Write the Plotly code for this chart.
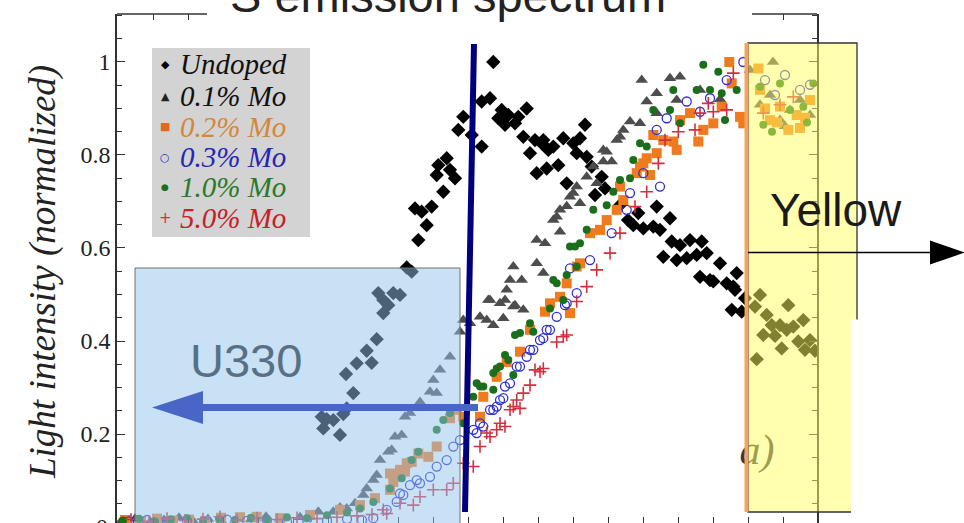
import plotly.graph_objects as go

# ---------------- data (x: arbitrary units 0..700, y: normalized intensity) ----------------
undoped = [(204.7,0.237),(206.3,0.212),(209.7,0.232),(216.3,0.230),(223,0.198),(226.3,0.243),(229.7,0.255),
           (229,0.329),(236.3,0.288),(239.7,0.352),(249.7,0.379),(254.7,0.353),(259.7,0.404),(261.3,0.503),
           (266.3,0.488),(266.3,0.460),(271.3,0.477),(276.3,0.503),(283,0.499),(289.7,0.558),(294.7,0.549),
           (298,0.685),(301.3,0.617),(304.7,0.678),(309.7,0.649),(314.7,0.689),(319.7,0.757),(321.3,0.778),
           (326.3,0.721),(329.7,0.793),(333,0.768),(338,0.750),(341.3,0.854),(346.3,0.882),(354.7,0.843),
           (364.7,0.915),(364.7,0.818),(373,0.922),(376.3,1.0),(381.3,0.879),(384.7,0.897),(388,0.865),
           (391.3,0.886),(398,0.868),(401.3,0.882),(406.3,0.839),(409.7,0.900),(413,0.804),(418,0.832),
           (419.7,0.761),(424.7,0.825),(426.3,0.832),(429.7,0.771),(431.3,0.811),(436.3,0.818),(441.3,0.778),
           (446.3,0.836),(449.7,0.739),(456.3,0.825),(459.7,0.804),(463,0.836),(468,0.865),(469.7,0.796),
           (474.7,0.775),(478,0.714),(484.7,0.753),(488,0.728),(503,0.692),(511,0.660),(516.3,0.649),
           (521.3,0.675),(526.3,0.642),(536.3,0.646),(539.7,0.689),(543,0.639),(546.3,0.581),(553,0.664),
           (554.7,0.614),(559.7,0.574),(563,0.606),(569.7,0.578),(573,0.617),(579.7,0.585),(583,0.538),
           (584.7,0.614),(589.7,0.589),(593,0.531),(596.3,0.528),(603,0.567),(609.7,0.524),(616.3,0.517),
           (619.7,0.546),(618,0.510),(614.7,0.467),(624.7,0.463),(628,0.492),(638,0.474),(639.7,0.361),
           (643,0.499),(646.3,0.413),(649.7,0.456),(654.7,0.434),(658,0.411),(663,0.434),(664.7,0.384),
           (669.7,0.424),(671.3,0.477),(676.3,0.431),(681.3,0.399),(686.3,0.445),(688,0.381),(693,0.402),
           (698,0.379)]

mo_01 = [(4,0.012),(18,0.018),(33,0.010),(47,0.015),(62,0.020),(76,0.013),(91,0.017),(105,0.011),
         (120,0.019),(134,0.016),(149,0.022),(163,0.018),(183,0.021),(201.3,0.033),(216.3,0.033),(223,0.042),
         (229.7,0.040),(238,0.051),(246.3,0.069),(249.7,0.083),(256.3,0.101),(259.7,0.112),(263,0.144),
         (271.3,0.162),(274.7,0.166),(278,0.194),(284.7,0.198),(288,0.237),(293,0.245),(303,0.269),
         (313,0.291),(319.7,0.288),(316.3,0.316),(323,0.338),(333,0.366),(343,0.420),(346.3,0.445),
         (353,0.438),(363,0.452),(369.7,0.445),(371.3,0.488),(376.3,0.434),(373,0.488),(383,0.481),
         (386.3,0.449),(388,0.488),(389.7,0.510),(393,0.531),(396.3,0.474),(396.3,0.560),(398,0.477),
         (404.7,0.531),(406.3,0.467),(419.7,0.567),(419.7,0.617),(426.3,0.546),(428,0.610),(436.3,0.660),
         (439.7,0.667),(443,0.635),(443,0.682),(449.7,0.690),(453,0.710),(456.3,0.718),(459.7,0.732),
         (463,0.696),(469.7,0.753),(476.3,0.775),(479.7,0.739),(486.3,0.811),(486.3,0.786),(489.7,0.807),
         (494.7,0.786),(499.7,0.832),(503,0.839),(506.3,0.854),(513,0.872),(523,0.868),(524.7,0.961),
         (529.7,0.915),(539.7,0.933),(539.7,0.890),(553,0.965),(559.7,0.918),(563,0.968),(583,0.940),
         (603,0.920),(633,0.983),(656,1.0),(643,0.908),(663,0.875),(673,0.897),(683,0.918),(693,0.886),
         (653,0.929),(668,0.862)]

mo_02 = [(8,0.015),(24,0.012),(40,0.018),(56,0.014),(72,0.016),(88,0.013),(104,0.020),(123,0.021),
         (139.7,0.022),(163,0.019),(193,0.026),(223,0.037),(243,0.047),(258,0.062),(273,0.080),(273,0.115),
         (276.3,0.097),(281.3,0.108),(283,0.123),(288,0.119),(289.7,0.137),(294.7,0.140),(301.3,0.158),
         (311.3,0.151),(319.7,0.173),(333,0.234),(339.7,0.252),(346.3,0.237),(363,0.237),(366.3,0.280),
         (379.7,0.323),(389.7,0.355),(403,0.377),(413,0.424),(428,0.463),(433,0.481),(443,0.495),
         (449.7,0.524),(453,0.460),(459.7,0.560),(463,0.567),(473,0.632),(483,0.639),(489.7,0.660),
         (499.7,0.682),(503,0.732),(506.3,0.703),(519.7,0.761),(523,0.775),(526.3,0.782),(529.7,0.793),
         (533,0.757),(536.3,0.843),(539.7,0.804),(546.3,0.832),(556.3,0.829),(559.7,0.811),(563,0.875),
         (573,0.890),(581.3,0.829),(586.3,0.854),(596.3,0.868),(604.7,0.904),(612.3,1.0),(614.7,0.954),
         (623,0.882),(626.3,0.868),(641.3,0.986),(643,0.940),(663,0.904),(671.3,0.854),(679.7,0.886),
         (693,0.918),(653,0.875),(683,0.858),(660,0.870),(688,0.880),(648,0.900)]

mo_03 = [(12,0.012),(30,0.015),(50,0.011),(70,0.014),(90,0.012),(110,0.016),(130,0.013),(150,0.015),
         (170,0.012),(190,0.016),(210,0.014),(230,0.017),(245,0.015),(256.3,0.019),(269.7,0.037),
         (279.7,0.054),(283,0.072),(286.3,0.069),(293,0.090),(299.7,0.101),(303,0.094),(313,0.108),
         (319.7,0.130),(329.7,0.144),(336.3,0.173),(343,0.187),(356.3,0.209),(359.7,0.202),(363,0.223),
         (366.3,0.216),(373,0.252),(376.3,0.252),(379.7,0.259),(383,0.273),(386.3,0.277),(388,0.302),
         (393,0.309),(399.7,0.345),(403,0.345),(409.7,0.366),(413,0.381),(416.3,0.381),(423,0.402),
         (426.3,0.406),(429.7,0.424),(433,0.424),(439.7,0.452),(448,0.477),(449.7,0.481),(453,0.556),
         (459.7,0.503),(473,0.574),(494.7,0.632),(509.7,0.682),(513,0.718),(526.3,0.761),(539.7,0.854),
         (543,0.732),(549.7,0.879),(569.7,0.915),(583,0.893),(593,0.922),(609.7,0.961),(626.3,1.0),
         (648,0.961),(668,0.972),(683,0.940),(693,0.951),(658,0.929)]

mo_10 = [(6,0.014),(22,0.018),(38,0.012),(54,0.016),(70,0.019),(86,0.013),(102,0.017),(118,0.015),
         (134,0.020),(150,0.016),(170,0.021),(190,0.019),(210,0.025),(230,0.031),(243,0.040),(256.3,0.054),
         (273,0.083),(284.7,0.105),(294.7,0.144),(301.3,0.162),(319.7,0.209),(326.3,0.230),(333,0.245),
         (346.3,0.223),(356.3,0.280),(359.7,0.309),(363,0.302),(366.3,0.302),(376.3,0.295),(376.3,0.331),
         (379.7,0.341),(383,0.345),(388,0.370),(391.3,0.359),(396.3,0.327),(398,0.413),(403,0.417),
         (413,0.438),(416.3,0.420),(433,0.470),(436.3,0.531),(439.7,0.524),(446.3,0.488),(449.7,0.542),
         (453,0.603),(458,0.603),(459.7,0.560),(463,0.610),(469.7,0.639),(476.3,0.682),(489.7,0.692),
         (496.3,0.721),(503,0.746),(513,0.750),(516.3,0.789),(523,0.825),(529.7,0.818),(536.3,0.897),
         (553,0.897),(556.3,0.940),(563,0.868),(579.7,0.940),(586.3,0.994),(593,0.940),(601.3,0.979),
         (604.7,0.933),(608,0.875),(619.7,0.940),(643,0.947),(646.3,0.865),(663,0.954),(686.3,0.904),
         (696.3,0.954),(673,0.897),(655,0.850),(690,0.870)]

mo_50 = [(14,0.016),(32,0.012),(50,0.018),(68,0.014),(86,0.017),(103,0.022),(120,0.015),(140,0.019),
         (160,0.016),(180,0.020),(200,0.018),(220,0.021),(240,0.024),(255,0.027),(266.3,0.037),(269.7,0.029),
         (283,0.051),(296.3,0.047),(303,0.065),(316.3,0.080),(329.7,0.080),(336.3,0.094),(346.3,0.137),
         (356.3,0.130),(363,0.173),(369.7,0.202),(373,0.194),(379.7,0.209),(383,0.223),(388,0.216),
         (393,0.252),(396.3,0.259),(399.7,0.273),(403,0.255),(406.3,0.288),(413,0.305),(418,0.338),
         (423,0.334),(426.3,0.341),(439.7,0.398),(446.3,0.409),(449.7,0.413),(459.7,0.485),(469.7,0.517),
         (479.7,0.553),(493,0.589),(503,0.632),(518,0.689),(529.7,0.721),(541.3,0.782),(548,0.832),
         (561.3,0.850),(578,0.854),(583,0.890),(591.3,0.911),(596.3,0.893),(609.7,0.897),(616.3,0.976),
         (646.3,0.890),(676.3,0.925),(663,0.908)]

legend_labels = ["Undoped", "0.1% Mo", "0.2% Mo", "0.3% Mo", "1.0% Mo", "5.0% Mo"]
y_ticks = [0.2, 0.4, 0.6, 0.8, 1.0]
y_ticktext = ["0.2", "0.4", "0.6", "0.8", "1"]

# ---------------- figure ----------------
W, H = 964, 523
L, R, T, B = 117, 817, 14, 523
def px(x):
    return (x - L) / (R - L)
def py(y):
    return (B - y) / (B - T)

fig = go.Figure()

def add_series(data, name, marker):
    fig.add_trace(go.Scatter(x=[p[0] for p in data], y=[p[1] for p in data], mode="markers",
                             name=name, marker=marker, showlegend=False, hoverinfo="skip"))

add_series(undoped, legend_labels[0], dict(symbol="diamond", size=11, color="#000000"))
add_series(mo_01, legend_labels[1], dict(symbol="triangle-up", size=11, color="#4d4d4d"))
add_series(mo_02, legend_labels[2], dict(symbol="square", size=10, color="#f07a1e"))
add_series(mo_03, legend_labels[3], dict(symbol="circle-open", size=9, color="#3030d0", line=dict(width=1.3)))
add_series(mo_10, legend_labels[4], dict(symbol="circle", size=8, color="#1b6e1b"))
add_series(mo_50, legend_labels[5], dict(symbol="cross-thin", size=9, color="#d03040",
                                         line=dict(width=1.6, color="#d03040")))

# "a)" panel label (below the overlays)
fig.add_trace(go.Scatter(x=[640], y=[0.159], mode="text", text=["<i>a)</i>"],
                         textfont=dict(family="Liberation Serif", size=42, color="#3a3a3a"),
                         showlegend=False, hoverinfo="skip"))

shapes = []
def rect(x0, y0, x1, y1, **kw):
    d = dict(type="rect", xref="paper", yref="paper", x0=px(x0), x1=px(x1), y0=py(y1), y1=py(y0), layer="above")
    d.update(kw)
    shapes.append(d)
def line(x0, y0, x1, y1, color, width):
    shapes.append(dict(type="line", xref="paper", yref="paper", x0=px(x0), y0=py(y0), x1=px(x1), y1=py(y1),
                       line=dict(color=color, width=width), layer="above"))
def poly(pts, color):
    path = "M " + " L ".join(f"{px(a)},{py(b)}" for a, b in pts) + " Z"
    shapes.append(dict(type="path", xref="paper", yref="paper", path=path, fillcolor=color,
                       line=dict(width=0), layer="above"))

# legend box
shapes.append(dict(type="rect", xref="paper", yref="paper", x0=px(152), x1=px(310), y0=py(237), y1=py(48),
                   fillcolor="#d3d3d3", line=dict(width=0), layer="below"))
# top frame line
line(117, 14, 817, 14, "#333333", 1.5)
# blue box
rect(135, 268, 460, 530, fillcolor="rgba(147,196,235,0.5)", line=dict(color="#707070", width=1))
# yellow box
rect(748, 43, 857, 512, fillcolor="rgba(255,255,95,0.5)", line=dict(color="#333333", width=1.3))
rect(851, 319.5, 900, 530, fillcolor="#ffffff", line=dict(width=0))
line(746.5, 43, 746.5, 512, "#f6a35c", 4)
# navy vertical line
line(474, 44, 465, 512, "#00007e", 6)
# blue arrow (U330)
line(478, 407.5, 198, 407.5, "#4866c6", 7)
poly([(152, 407.5), (203, 391), (203, 424)], "#4866c6")
# black arrow (Yellow)
line(748, 252.5, 935, 252.5, "#000000", 1.5)
poly([(965, 252.5), (930, 240.5), (930, 264.5)], "#000000")
# white title box
rect(207, -10, 752, 21, fillcolor="#ffffff", line=dict(width=0))

annotations = []
def text(x, y, s, size, color, family="Liberation Sans", xanchor="center", angle=0):
    annotations.append(dict(xref="paper", yref="paper", x=px(x), y=py(y), text=s, showarrow=False,
                            xanchor=xanchor, yanchor="middle", textangle=angle,
                            font=dict(family=family, size=size, color=color)))

text(447.5, -4.5, "S emission spectrum", 47, "#222222")
text(835.5, 210, "Yellow", 46, "#1a1a1a")
text(245.5, 360, "U330", 47, "#587086")
text(43, 272, "<i>Light intensity (normalized)</i>", 37, "#222222", family="Liberation Serif", angle=-90)
text(110, 527, "0", 24, "#222222", family="Liberation Serif", xanchor="right")

row_y = [64, 96, 127, 157, 187, 218]
sym = ["◆", "▲", "■", "○", "●", "+"]
sym_size = [11, 11, 11, 11, 9, 15]
sym_col = ["#000000", "#222222", "#e8661c", "#2a2ad0", "#1b6e1b", "#d03040"]
txt_col = ["#111111", "#111111", "#d4873a", "#2626b8", "#2a7a2a", "#c8202a"]
for i, lab in enumerate(legend_labels):
    text(165, row_y[i], sym[i], sym_size[i], sym_col[i], family="DejaVu Sans")
    text(178, row_y[i], f"<i>{lab}</i>", 29, txt_col[i], family="Liberation Serif", xanchor="left")

fig.update_layout(
    width=W, height=H, margin=dict(l=L, r=W - R, t=T, b=H - B, pad=0),
    paper_bgcolor="#ffffff", plot_bgcolor="#ffffff", showlegend=False,
    shapes=shapes, annotations=annotations,
    xaxis=dict(range=[0, 700], tick0=1, dtick=35, ticks="inside", ticklen=6, tickcolor="#333333",
               showticklabels=False, showline=False, mirror="ticks", showgrid=False, zeroline=False),
    yaxis=dict(range=[0.0086, 1.1032], tick0=0, dtick=0.2, ticks="inside", ticklen=8, tickwidth=1.2,
               tickcolor="#333333", showline=True, linecolor="#333333", linewidth=1.5, mirror="ticks",
               showgrid=False, zeroline=False,
               tickfont=dict(family="Liberation Serif", size=24, color="#222222"),
               minor=dict(tick0=0, dtick=0.05, ticks="inside", ticklen=5, tickcolor="#333333")),
)

fig.write_html("out.html")
